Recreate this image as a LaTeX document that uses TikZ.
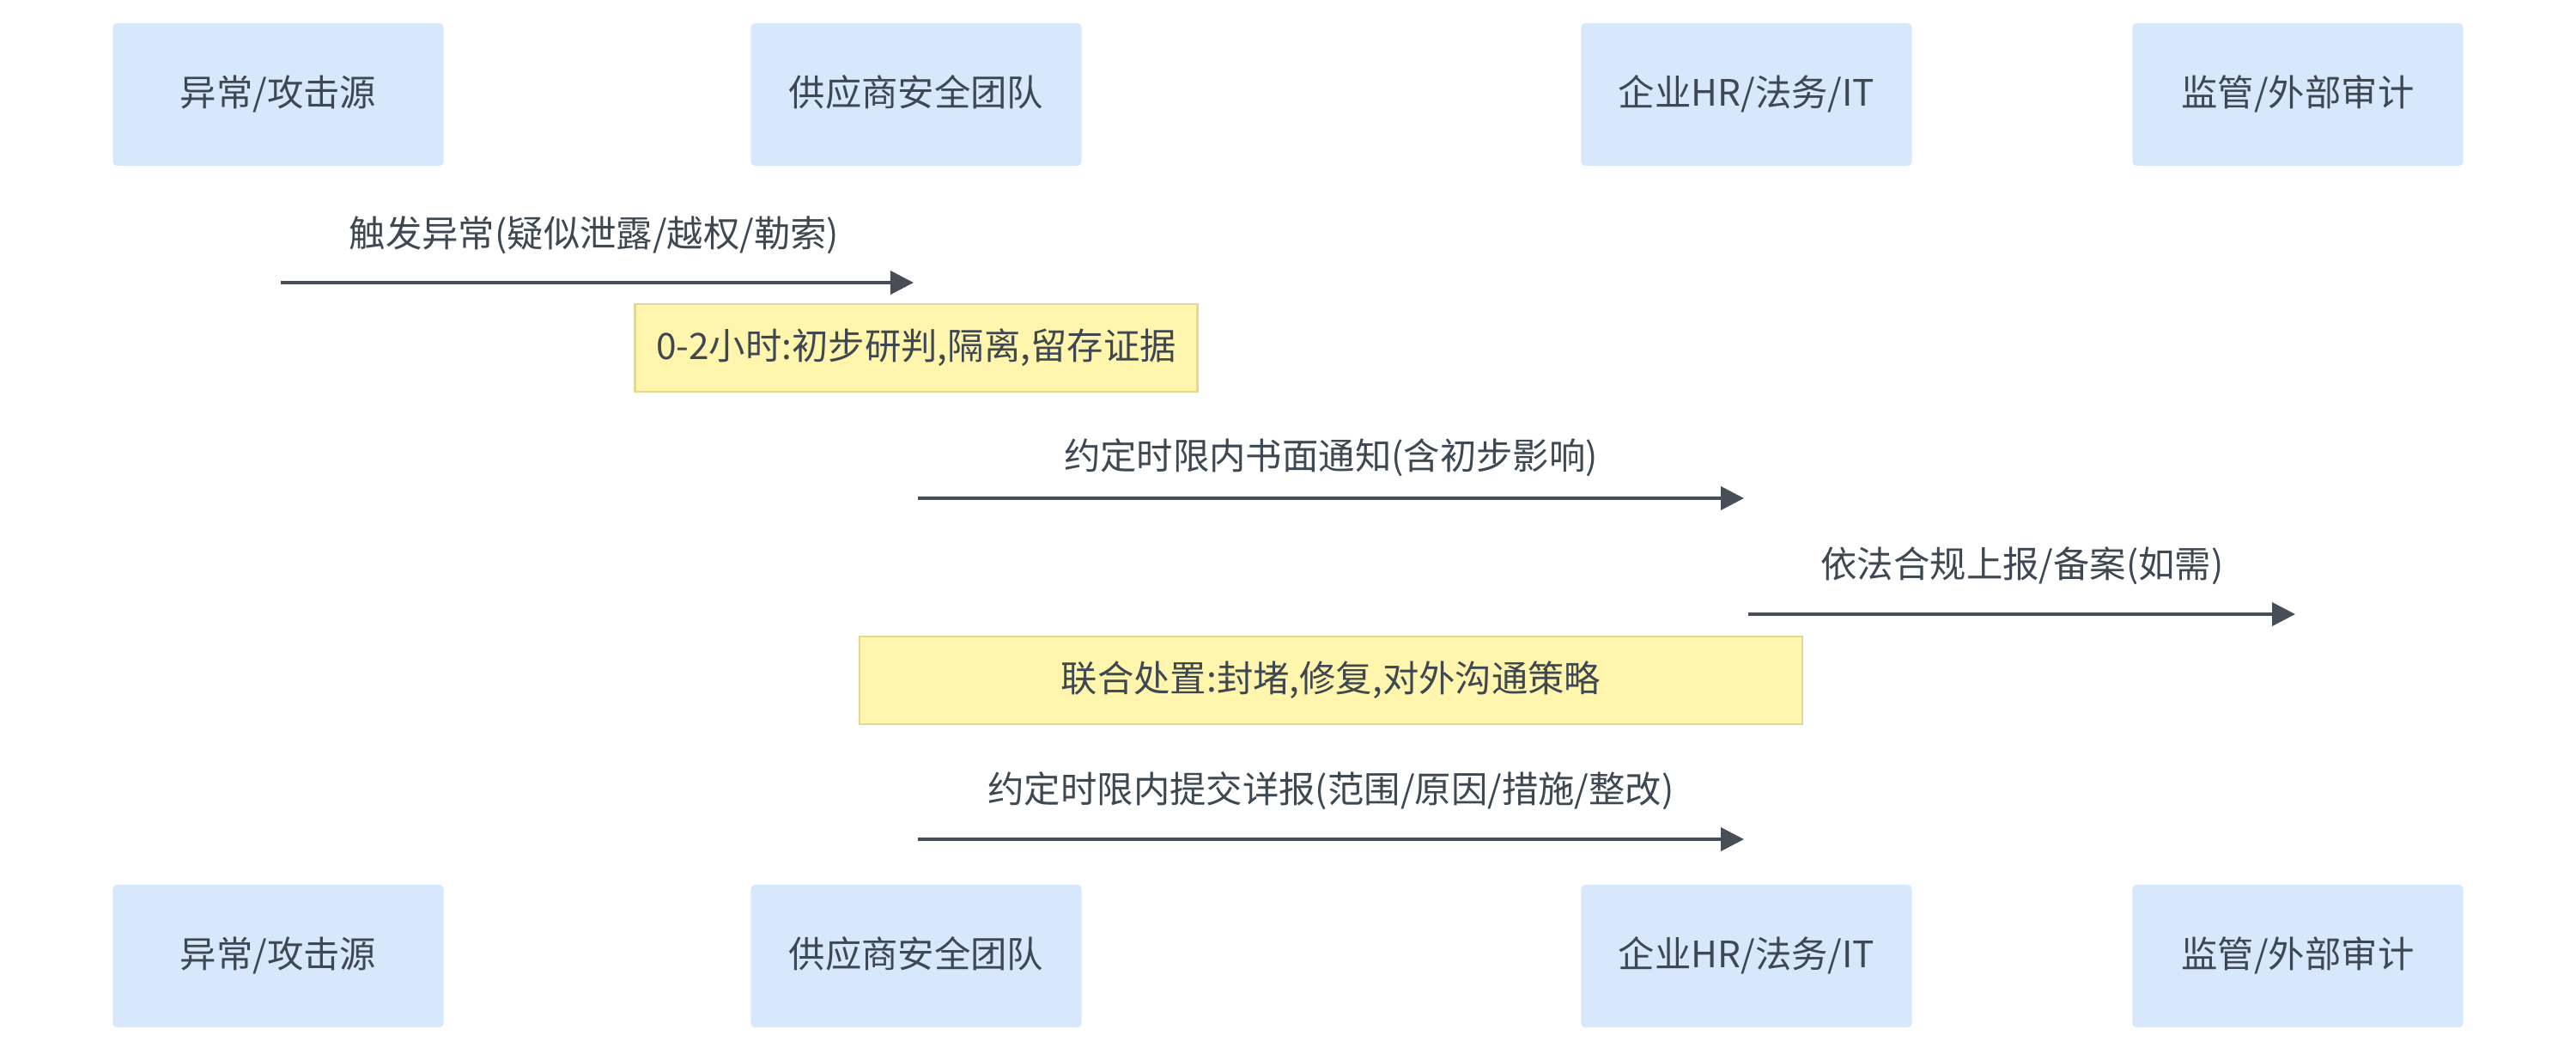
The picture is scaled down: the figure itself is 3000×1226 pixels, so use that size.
\documentclass[tikz,border=0pt]{standalone}
\usepackage{fontspec}
\setmainfont{Noto Sans CJK SC}
\usetikzlibrary{arrows.meta}
\definecolor{actorfill}{HTML}{D7E7FC}
\definecolor{notefill}{HTML}{FFF5AD}
\definecolor{noteline}{HTML}{E3D993}
\definecolor{inkgray}{HTML}{3E4852}
\definecolor{msggray}{HTML}{474E57}
\begin{document}
\begin{tikzpicture}[x=0.01cm,y=-0.01cm,
  every node/.style={text=inkgray,font=\fontsize{12.05}{14}\selectfont,text height=0.88em,text depth=0.12em},
  actor/.style={fill=actorfill,rounded corners=1.4pt,minimum width=3.85cm,minimum height=1.66cm,inner sep=0pt},
  note/.style={fill=notefill,draw=noteline,line width=0.7pt,minimum height=1.02cm,inner sep=0pt},
  msg/.style={draw=msggray,line width=1.1pt,-{Triangle[length=0.27cm,width=0.27cm]}}]
\useasboundingbox (0,0) rectangle (3000,1226);

% participants, top and bottom
\node[actor] (src) at (324,110) {异常/攻击源};
\node[actor] (vendor) at (1067,110) {供应商安全团队};
\node[actor] (corp) at (2034,110) {企业HR/法务/IT};
\node[actor] (reg) at (2676,110) {监管/外部审计};
\node[actor] (srcB) at (324,1113) {异常/攻击源};
\node[actor] (vendorB) at (1067,1113) {供应商安全团队};
\node[actor] (corpB) at (2034,1113) {企业HR/法务/IT};
\node[actor] (regB) at (2676,1113) {监管/外部审计};

% message ends
\coordinate (m1a) at (327,329);
\coordinate (m1b) at (1064,329);
\coordinate (m2a) at (1069,580);
\coordinate (m2b) at (2031,580);
\coordinate (m3a) at (2036,715);
\coordinate (m3b) at (2673,715);
\coordinate (m4a) at (1069,977);
\coordinate (m4b) at (2031,977);

\draw[msg] (m1a) -- (m1b);
\node (l1) at (692,274) {触发异常(疑似泄露/越权/勒索)};

\node[note,minimum width=6.55cm] (n1) at (1067,405) {0-2小时:初步研判,隔离,留存证据};

\draw[msg] (m2a) -- (m2b);
\node (l2) at (1550,533) {约定时限内书面通知(含初步影响)};

\draw[msg] (m3a) -- (m3b);
\node (l3) at (2355,659) {依法合规上报/备案(如需)};

\node[note,minimum width=10.97cm] (n2) at (1550,792) {联合处置:封堵,修复,对外沟通策略};

\draw[msg] (m4a) -- (m4b);
\node (l4) at (1550,921) {约定时限内提交详报(范围/原因/措施/整改)};
\end{tikzpicture}
\end{document}
